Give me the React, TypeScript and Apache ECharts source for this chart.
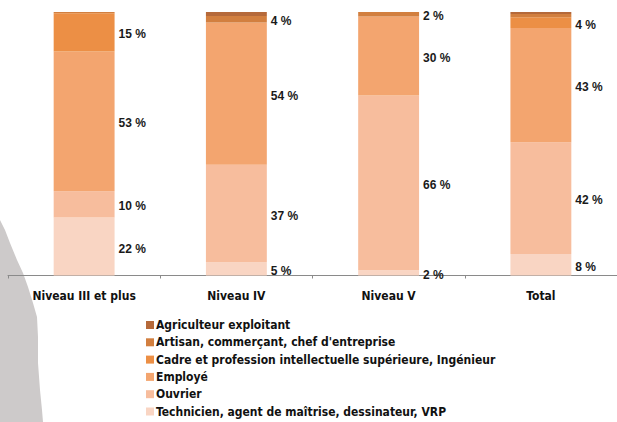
import React, { useEffect, useRef } from "react";
import * as echarts from "echarts";

const categories = ["Niveau III et plus", "Niveau IV", "Niveau V", "Total"];

const seriesNames = [
  "Technicien, agent de maîtrise, dessinateur, VRP",
  "Ouvrier",
  "Employé",
  "Cadre et profession intellectuelle supérieure, Ingénieur",
  "Artisan, commerçant, chef d'entreprise",
  "Agriculteur exploitant",
];

const technicien = [22, 5, 2, 8.2];
const ouvrier = [10, 37, 66.3, 42.4];
const employe = [53, 54, 30, 43.3];
const cadre = [14.5, 0, 0, 4.1];
const artisan = [0.5, 2.5, 1.7, 1.2];
const agriculteur = [0, 1.5, 0, 0.8];

const technicienLabels = ["22 %", "5 %", "2 %", "8 %"];
const ouvrierLabels = ["10 %", "37 %", "66 %", "42 %"];
const employeLabels = ["53 %", "54 %", "30 %", "43 %"];
const cadreLabels = ["15 %", "", "", "4 %"];
const artisanLabels = ["", "4 %", "2 %", ""];
const agriculteurLabels = ["", "", "", ""];

const colors = ["#f9d5c3", "#f7bd9d", "#f3a56f", "#ec8f45", "#d27f3f", "#b5693a"];

const values = [technicien, ouvrier, employe, cadre, artisan, agriculteur];
const labels = [technicienLabels, ouvrierLabels, employeLabels, cadreLabels, artisanLabels, agriculteurLabels];

const condensed = "'DejaVu Sans Condensed', 'Liberation Sans', sans-serif";

export default function App() {
  const ref = useRef<HTMLDivElement>(null);
  useEffect(() => {
    if (!ref.current) return;
    const chart = echarts.init(ref.current, null, { renderer: "svg" });
    const series = seriesNames.map((name, si) => ({
      name,
      type: "bar",
      stack: "all",
      barWidth: "40%",
      itemStyle: { color: colors[si] },
      label: {
        show: true,
        position: "right",
        distance: 4,
        offset: [0, 2],
        color: "#1a1a1a",
        fontFamily: "'Liberation Sans', Arial, sans-serif",
        fontWeight: "bold",
        fontSize: 12,
        formatter: (p: any) => labels[si][p.dataIndex],
      },
      data: values[si],
    }));
    chart.setOption({
      animation: false,
      backgroundColor: "#ffffff",
      grid: { left: 8, top: 12, width: 613, height: 263.5, containLabel: false },
      xAxis: {
        type: "category",
        data: categories,
        axisLine: { lineStyle: { color: "#8a8a8a", width: 1 } },
        axisTick: { show: true, length: 3, lineStyle: { color: "#8a8a8a" } },
        axisLabel: {
          color: "#111",
          fontFamily: condensed,
          fontWeight: "bold",
          fontSize: 12,
          margin: 14,
        },
      },
      yAxis: { type: "value", min: 0, max: 100, show: false },
      legend: {
        orient: "vertical",
        left: 146,
        top: 318,
        padding: 0,
        height: 104,
        icon: "rect",
        itemWidth: 8,
        itemHeight: 8,
        itemGap: 3.3,
        data: [...seriesNames].reverse(),
        textStyle: {
          color: "#111",
          fontFamily: condensed,
          fontWeight: "bold",
          fontSize: 12,
          lineHeight: 14,
          padding: [0, 0, 0, -3],
        },
      },
      graphic: [
        {
          type: "polygon",
          z: -10,
          shape: {
            points: [
              [0, 220], [5, 230], [10, 243], [17, 260], [23, 273], [28, 287],
              [33, 303], [37, 317], [38, 337], [38, 363], [40, 390], [42, 410],
              [43, 422], [0, 422],
            ],
          },
          style: { fill: "#cdcaca" },
        },
      ],
      series,
    });
    return () => chart.dispose();
  }, []);
  return (
    <div
      ref={ref}
      style={{ position: "fixed", left: 0, top: 0, width: 617, height: 422, background: "#fff" }}
    />
  );
}
